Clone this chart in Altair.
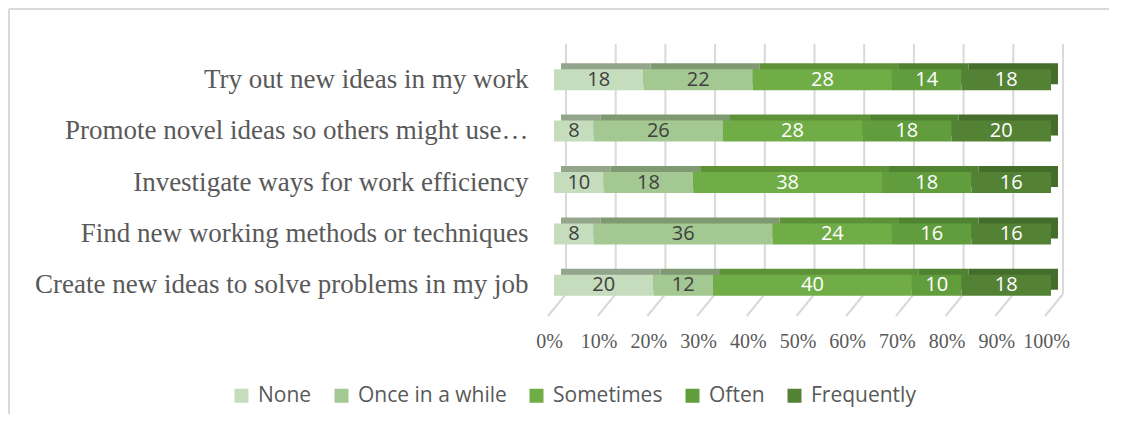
import altair as alt
import pandas as pd

categories = [
    "Try out new ideas in my work",
    "Promote novel ideas so others might use…",
    "Investigate ways for work efficiency",
    "Find new working methods or techniques",
    "Create new ideas to solve problems in my job",
]
series = ["None", "Once in a while", "Sometimes", "Often", "Frequently"]
none_vals = [18, 8, 10, 8, 20]
once_vals = [22, 26, 18, 36, 12]
some_vals = [28, 28, 38, 24, 40]
often_vals = [14, 18, 18, 16, 10]
freq_vals = [18, 20, 16, 16, 18]
tick_values = [0, 10, 20, 30, 40, 50, 60, 70, 80, 90, 100]

front_colors = ["#c5dcbd", "#a3c892", "#70ad47", "#629d3d", "#548235"]
top_colors = ["#93a58b", "#7f9a70", "#5e9239", "#4f8332", "#446d2b"]

all_vals = [none_vals, once_vals, some_vals, often_vals, freq_vals]
rows = []
for si, (s, vals) in enumerate(zip(series, all_vals)):
    for c, v in zip(categories, vals):
        rows.append({"category": c, "series": s, "idx": si, "value": v})
df = pd.DataFrame(rows)
ticks_df = pd.DataFrame({"t": tick_values})

W, H = 497, 257
grid_color = "#d9d9d9"

xscale = alt.Scale(domain=[0, 100], nice=False)
yscale = alt.Scale(domain=categories, paddingInner=0.5, paddingOuter=0.25)

base = alt.Chart(df).transform_stack(
    stack="value", as_=["x0", "x1"], groupby=["category"], sort=[alt.SortField("idx")]
).transform_calculate(mid="(datum.x0 + datum.x1) / 2", face="datum.series")

yenc = alt.Y("category:N", scale=yscale, sort=categories, title=None,
             axis=alt.Axis(labelFont="Liberation Serif", labelFontSize=27,
                           labelColor="#595959", labelPadding=26, ticks=False,
                           domain=False, labelLimit=800))

# frame (decoration)
frame_left = alt.Chart(ticks_df).mark_rule(color=grid_color, strokeWidth=2).encode(
    x=alt.value(-545), y=alt.value(-45), y2=alt.value(360))
frame_top = alt.Chart(ticks_df).mark_rule(color=grid_color, strokeWidth=2).encode(
    x=alt.value(-545), x2=alt.value(555), y=alt.value(-45))

grid_v = alt.Chart(ticks_df).mark_rule(color=grid_color, strokeWidth=2, xOffset=12).encode(
    x=alt.X("t:Q", scale=xscale,
            axis=alt.Axis(values=tick_values, labelExpr="datum.value + '%'",
                          labelFont="Liberation Serif", labelFontSize=20,
                          labelColor="#595959", grid=False, domain=False, ticks=False,
                          labelOffset=-5, labelPadding=20, labelFlush=False),
            title=None),
    y=alt.value(-10), y2=alt.value(240))
grid_d = alt.Chart(ticks_df).mark_rule(color=grid_color, strokeWidth=2, xOffset=12, x2Offset=-6).encode(
    x=alt.X("t:Q", scale=xscale), x2="t:Q",
    y=alt.value(240), y2=alt.value(262))

top_face = base.mark_bar(size=21, xOffset=7, x2Offset=7, yOffset=-6).encode(
    x=alt.X("x0:Q", scale=xscale), x2="x1:Q", y=yenc,
    fill=alt.Fill("face:N", scale=alt.Scale(domain=series, range=top_colors), legend=None))

front = base.mark_bar(size=21).encode(
    x=alt.X("x0:Q", scale=xscale), x2="x1:Q", y=yenc,
    color=alt.Color("series:N", scale=alt.Scale(domain=series, range=front_colors),
                    title=None,
                    legend=alt.Legend(orient="none", direction="horizontal", columns=5,
                                      legendX=-323, legendY=331, symbolType="square",
                                      symbolSize=196, symbolStrokeWidth=0,
                                      labelFont="Open Sans", labelFontSize=21,
                                      labelColor="#595959", labelOffset=6,
                                      columnPadding=19, padding=0)))

labels = base.mark_text(font="Open Sans", fontSize=20, baseline="middle").encode(
    x=alt.X("mid:Q", scale=xscale), y=yenc, text="value:Q",
    color=alt.condition("datum.idx < 2", alt.value("#404040"), alt.value("#ffffff")))

chart = alt.layer(frame_left, frame_top, grid_v, grid_d, top_face, front, labels).properties(
    width=W, height=H, padding=0
).resolve_legend(color="independent", fill="independent").configure_view(stroke=None)

chart.save("out.html", embed_options={"renderer": "svg", "actions": False})
